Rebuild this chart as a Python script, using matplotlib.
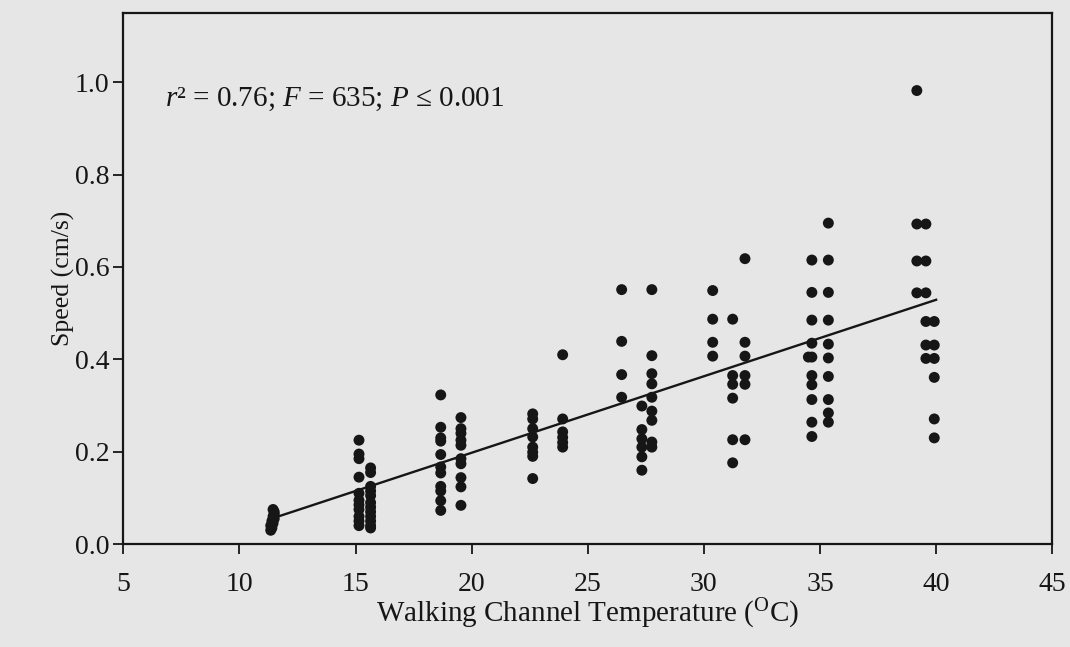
import matplotlib
matplotlib.use("Agg")
import matplotlib.pyplot as plt

plt.rcParams['font.family'] = ['Liberation Serif', 'DejaVu Serif']
plt.rcParams['mathtext.fontset'] = 'custom'
plt.rcParams['mathtext.rm'] = 'Liberation Serif'
plt.rcParams['mathtext.it'] = 'Liberation Serif:italic'

# Data
temp_c = (
    [11.35, 11.40, 11.35, 11.45, 11.40, 11.50, 11.45, 11.50, 11.50, 11.45]
    + [15.15] * 11
    + [15.65] * 12
    + [18.67] * 11
    + [19.54] * 10
    + [22.63] * 8
    + [23.92] * 6
    + [26.46] * 4
    + [27.33] * 6
    + [27.76] * 9
    + [30.38] * 4
    + [31.24] * 6
    + [31.77] * 6
    + [34.65] * 10 + [34.50]
    + [35.36] * 10
    + [39.17] * 4
    + [39.56] * 6
    + [39.92] * 6
)
speed = (
    [0.030, 0.035, 0.040, 0.045, 0.050, 0.055, 0.060, 0.065, 0.070, 0.075]
    + [0.225, 0.195, 0.185, 0.145, 0.110, 0.095, 0.085, 0.075, 0.060, 0.050, 0.040]
    + [0.165, 0.155, 0.125, 0.115, 0.105, 0.090, 0.080, 0.070, 0.060, 0.050, 0.040, 0.035]
    + [0.323, 0.253, 0.230, 0.223, 0.194, 0.167, 0.154, 0.125, 0.115, 0.094, 0.073]
    + [0.274, 0.250, 0.240, 0.225, 0.214, 0.185, 0.174, 0.144, 0.124, 0.084]
    + [0.282, 0.271, 0.250, 0.232, 0.210, 0.199, 0.190, 0.142]
    + [0.410, 0.271, 0.243, 0.231, 0.220, 0.210]
    + [0.551, 0.439, 0.367, 0.318]
    + [0.299, 0.248, 0.228, 0.210, 0.189, 0.160]
    + [0.551, 0.408, 0.369, 0.347, 0.318, 0.288, 0.268, 0.221, 0.210]
    + [0.549, 0.487, 0.437, 0.407]
    + [0.487, 0.365, 0.346, 0.316, 0.226, 0.176]
    + [0.618, 0.437, 0.407, 0.365, 0.346, 0.226]
    + [0.615, 0.545, 0.485, 0.435, 0.405, 0.365, 0.345, 0.313, 0.264, 0.233] + [0.405]
    + [0.695, 0.615, 0.545, 0.485, 0.433, 0.403, 0.363, 0.313, 0.284, 0.264]
    + [0.982, 0.693, 0.613, 0.544]
    + [0.693, 0.613, 0.544, 0.482, 0.431, 0.402]
    + [0.482, 0.431, 0.402, 0.361, 0.271, 0.230]
)

fit_x = [11.68, 40.0]
fit_y = [0.060, 0.529]

x_ticks = [5, 10, 15, 20, 25, 30, 35, 40, 45]
y_ticks = [0.0, 0.2, 0.4, 0.6, 0.8, 1.0]

bg = '#e6e6e6'
ink = '#161616'
fig = plt.figure(figsize=(10.7, 6.47), dpi=100, facecolor=bg)
ax = fig.add_axes([0.1152, 0.159, 0.8682, 0.821])
ax.set_facecolor(bg)

ax.scatter(temp_c, speed, s=62, color=ink, edgecolors='none', zorder=3)
ax.plot(fit_x, fit_y, color=ink, lw=1.7, zorder=2)

ax.set_xlim(5, 45)
ax.set_ylim(0, 1.15)
ax.set_xticks(x_ticks)
ax.set_xticklabels([str(t) for t in x_ticks])
ax.set_yticks(y_ticks)
ax.set_yticklabels([f"{t:.1f}" for t in y_ticks])

for sp in ax.spines.values():
    sp.set_linewidth(1.6)
    sp.set_color(ink)
ax.tick_params(direction='out', length=7, width=1.3, color=ink,
               labelsize=20, labelcolor=ink)
ax.tick_params(axis='x', pad=13)
ax.tick_params(axis='y', pad=3)

ax.set_xlabel(r'Walking Channel Temperature ($^{\mathrm{O}}$C)', fontsize=21,
              color=ink, labelpad=0)
ax.set_ylabel('Speed (cm/s)', fontsize=18.5, color=ink, labelpad=0)

ax.text(6.8, 0.963, r'$r$² = 0.76; $F$ = 635; $P$ ≤ 0.001', fontsize=21,
        color=ink, va='center', ha='left')

fig.savefig('out.png', dpi=100, facecolor=bg)
